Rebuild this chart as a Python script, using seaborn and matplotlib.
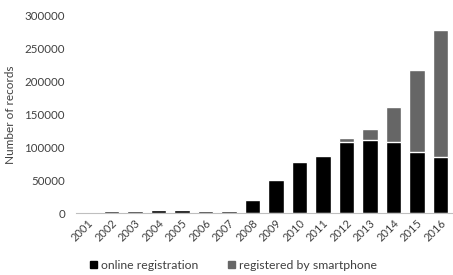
import numpy as np
import pandas as pd
import matplotlib
matplotlib.use("Agg")
import matplotlib.pyplot as plt
import seaborn as sns
from matplotlib.patches import Patch

# Data
years = [str(y) for y in range(2001, 2017)]
online = [800, 3000, 3000, 4000, 5500, 3000, 3500, 19800, 50500, 77700,
          86800, 108500, 111500, 108500, 93000, 85500]
smartphone = [0, 0, 0, 0, 0, 0, 0, 0, 0, 0,
              0, 6000, 17000, 53000, 125000, 193500]

df = pd.DataFrame({"year": years, "online": online, "smartphone": smartphone})
df["total"] = df["online"] + df["smartphone"]

sns.set_style("white")
plt.rcParams["font.family"] = ["Lato", "DejaVu Sans"]

fig = plt.figure(figsize=(4.53, 2.75), dpi=100)
ax = fig.add_axes([0.168, 0.225, 0.83, 0.717])

sns.barplot(data=df, x="year", y="total", color="#666666", width=0.66,
            saturation=1, ax=ax)
sns.barplot(data=df, x="year", y="online", color="#000000", width=0.66,
            saturation=1, ax=ax)

ax.set_ylim(0, 300000)
ax.set_yticks(np.arange(0, 300001, 50000))
ax.set_xlabel("")
ax.set_ylabel("Number of records", fontsize=8.5, color="#404040", labelpad=6)
ax.tick_params(axis="y", labelsize=8.3, colors="#404040", length=0, pad=8)
ax.tick_params(axis="x", labelsize=8, colors="#404040", length=0, pad=3)
plt.setp(ax.get_xticklabels(), rotation=45, ha="right", rotation_mode="anchor")
for s in ["top", "right", "left"]:
    ax.spines[s].set_visible(False)
ax.spines["bottom"].set_color("#bfbfbf")
ax.spines["bottom"].set_linewidth(0.8)

handles = [Patch(color="#000000", label="online registration"),
           Patch(color="#666666", label="registered by smartphone")]
fig.legend(handles=handles, loc="lower center", ncol=2, frameon=False,
           fontsize=8.8, bbox_to_anchor=(0.515, -0.025), handlelength=0.6,
           handleheight=0.6, handletextpad=0.3, columnspacing=2.4,
           labelcolor="#404040")

fig.savefig("out.png", dpi=100)
